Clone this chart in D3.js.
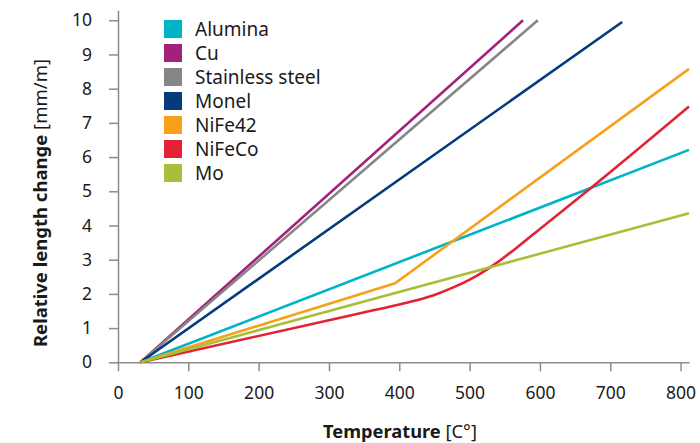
<!DOCTYPE html>
<html>
<head>
<meta charset="utf-8">
<script src="https://cdn.jsdelivr.net/npm/d3@7"></script>
<style>
  html, body { margin: 0; padding: 0; background: #fff; }
  svg { display: block; }
</style>
</head>
<body>
<script>
// Datos: [temperatura °C, cambio relativo mm/m]
const alumina   = [[32, 0], [812, 6.21]];
const cu        = [[32, 0], [576, 10]];
const stainless = [[32, 0], [597, 10]];
const monel     = [[32, 0], [717, 9.95]];
const nife42    = [[32, 0], [394, 2.31], [812, 8.58]];
const nifeco    = [[32, 0], [300, 1.23], [350, 1.46], [400, 1.69], [420, 1.79], [450, 1.97],
                   [480, 2.22], [510, 2.53], [540, 2.93], [570, 3.40], [600, 3.90],
                   [672, 5.09], [812, 7.48]];
const mo        = [[32, 0], [812, 4.36]];

const seriesNames  = ["Alumina", "Cu", "Stainless steel", "Monel", "NiFe42", "NiFeCo", "Mo"];
const seriesValues = [alumina, cu, stainless, monel, nife42, nifeco, mo];
const seriesColors = ["#00b4c8", "#a3217a", "#858688", "#053a7d", "#f7a11a", "#e32235", "#a8bf38"];

const xTicks = [0, 100, 200, 300, 400, 500, 600, 700, 800];
const yTicks = [0, 1, 2, 3, 4, 5, 6, 7, 8, 9, 10];

const width = 700, height = 443;
const FONT = "'Noto Sans', 'Open Sans', sans-serif";

const x = d3.scaleLinear().domain([0, 812]).range([118, 689]);
const y = d3.scaleLinear().domain([0, 10.3]).range([362.3, 10]);

const svg = d3.select("body").append("svg")
  .attr("width", width).attr("height", height)
  .style("font-family", FONT);

// ── Ejes ──────────────────────────────────────────────
const axisColor = "#8c8c8c";

svg.append("g").attr("transform", `translate(0,${y(0)})`)
  .call(d3.axisBottom(x).tickValues(xTicks).tickSize(9).tickPadding(15).tickSizeOuter(0))
  .call(ax => ax.select(".domain").attr("stroke", axisColor).attr("stroke-width", 1.5))
  .call(ax => ax.selectAll(".tick line").attr("stroke", axisColor).attr("stroke-width", 1.5))
  .call(ax => ax.selectAll(".tick text").attr("font-size", 17.5).attr("fill", "#1a1a1a")
    .attr("font-family", FONT));

svg.append("g").attr("transform", `translate(${x(0)},0)`)
  .call(d3.axisLeft(y).tickValues(yTicks).tickSize(9).tickPadding(17).tickSizeOuter(0))
  .call(ax => ax.select(".domain").attr("stroke", axisColor).attr("stroke-width", 1.5))
  .call(ax => ax.selectAll(".tick line").attr("stroke", axisColor).attr("stroke-width", 1.5))
  .call(ax => ax.selectAll(".tick text").attr("font-size", 17.5).attr("fill", "#1a1a1a")
    .attr("font-family", FONT));

// Títulos de ejes (parte en negrita + unidad normal)
const xTitle = svg.append("text")
  .attr("x", 400).attr("y", 438)
  .attr("text-anchor", "middle").attr("font-size", 18.3).attr("fill", "#1a1a1a");
xTitle.append("tspan").attr("font-weight", "bold").text("Temperature");
xTitle.append("tspan").text(" [C°]");

const yTitle = svg.append("text")
  .attr("transform", `translate(47,203) rotate(-90)`)
  .attr("text-anchor", "middle").attr("font-size", 18.5).attr("fill", "#1a1a1a");
yTitle.append("tspan").attr("font-weight", "bold").text("Relative length change");
yTitle.append("tspan").text(" [mm/m]");

// ── Líneas ────────────────────────────────────────────
// Tramos rectos, salvo NiFeCo que es curva suave
const lineStraight = d3.line().x(d => x(d[0])).y(d => y(d[1]));
const lineSmooth = d3.line().x(d => x(d[0])).y(d => y(d[1])).curve(d3.curveMonotoneX);

svg.append("g").selectAll("path").data(seriesValues).join("path")
  .attr("d", d => (d === nifeco ? lineSmooth : lineStraight)(d))
  .attr("fill", "none")
  .attr("stroke", (d, i) => seriesColors[i])
  .attr("stroke-width", 2.6);

// ── Leyenda ───────────────────────────────────────────
const legend = svg.append("g").attr("transform", "translate(164,20)");
seriesNames.forEach((name, i) => {
  legend.append("rect").attr("x", 0).attr("y", i * 24)
    .attr("width", 18).attr("height", 18).attr("fill", seriesColors[i]);
  legend.append("text").attr("x", 31).attr("y", i * 24 + 9)
    .attr("dy", "0.36em").attr("font-size", 19).attr("fill", "#1a1a1a")
    .text(name);
});
</script>
</body>
</html>
